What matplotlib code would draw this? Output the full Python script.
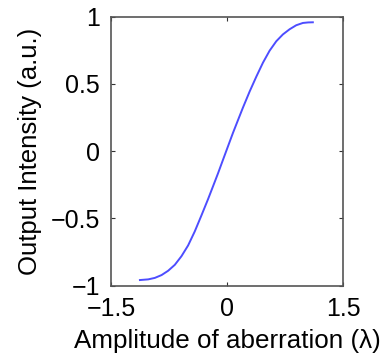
import matplotlib
matplotlib.use("Agg")
import matplotlib.pyplot as plt

amplitude = [-1.126, -1.019, -0.933, -0.846, -0.761, -0.675, -0.589, -0.503, -0.417, -0.330,
             -0.245, -0.181, -0.116, -0.052, 0.035, 0.077, 0.164, 0.206, 0.293, 0.379,
             0.465, 0.551, 0.637, 0.723, 0.809, 0.895, 0.981, 1.05, 1.11]
intensity = [-0.958, -0.953, -0.942, -0.921, -0.889, -0.845, -0.781, -0.701, -0.597, -0.477,
             -0.357, -0.262, -0.165, -0.065, 0.070, 0.135, 0.262, 0.323, 0.443, 0.553,
             0.657, 0.746, 0.816, 0.867, 0.905, 0.935, 0.952, 0.956, 0.957]
xticks = [-1.5, 0, 1.5]
yticks = [-1, -0.5, 0, 0.5, 1]
xticklabels = ["\u22121.5", "0", "1.5"]
yticklabels = ["\u22121", "\u22120.5", "0", "0.5", "1"]

plt.rcParams['font.family'] = ['Liberation Sans', 'DejaVu Sans']
fig = plt.figure(figsize=(3.84, 3.59), dpi=100)
ax = fig.add_axes([111/384, 1 - 285.7/359, 232/384, 269.2/359])
ax.plot(amplitude, intensity, color='#4d4dff', lw=1.4)
ax.set_xlim(-1.5, 1.5)
ax.set_ylim(-1, 1)
ax.set_xticks(xticks)
ax.set_xticklabels(xticklabels)
ax.set_yticks(yticks)
ax.set_yticklabels(yticklabels)
ax.tick_params(direction='in', length=3, width=0.8, colors='#333333', labelcolor='black',
               labelsize=18, top=True, right=True, pad=8)
for s in ax.spines.values():
    s.set_color('#555555')
    s.set_linewidth(1.2)
ax.set_xlabel("Amplitude of aberration (\u03bb)", fontsize=18.7, labelpad=6)
ax.set_ylabel("Output Intensity (a.u.)", fontsize=18.5, labelpad=6)
fig.savefig("out.png", dpi=100)
